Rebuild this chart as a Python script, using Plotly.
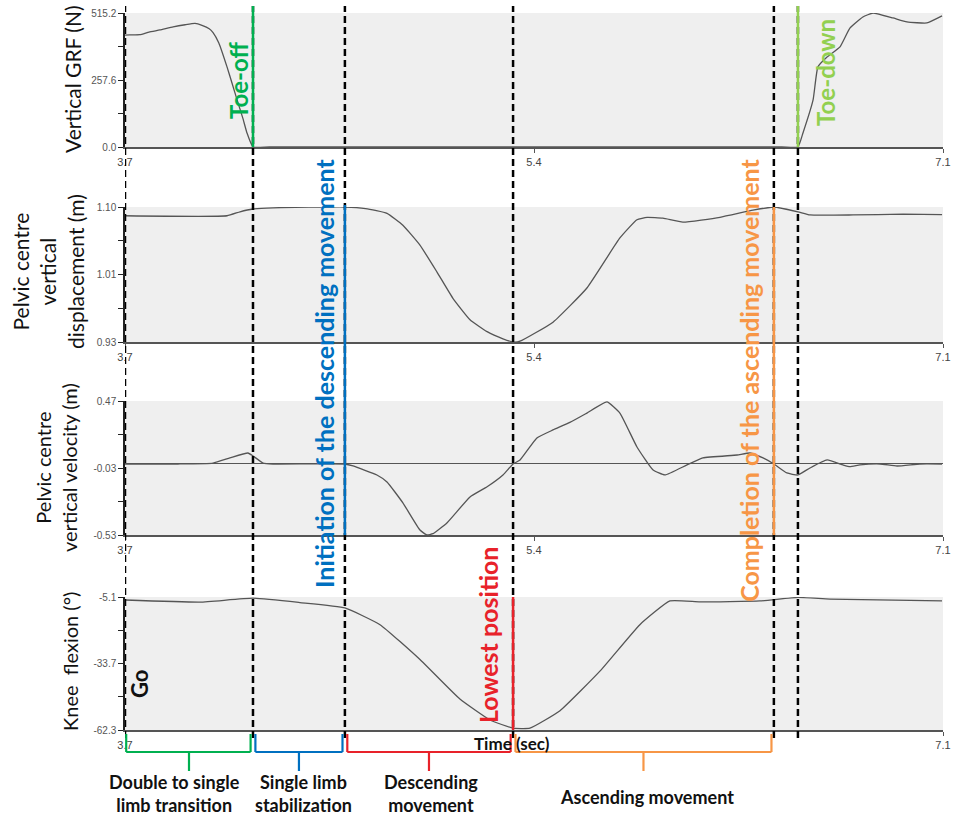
import plotly.graph_objects as go

# ---------------- data ----------------
grf_t = [3.700, 3.720, 3.762, 3.800, 3.845, 3.900, 3.950, 3.991, 4.020, 4.050, 4.066, 4.090, 4.124, 4.145, 4.166,
         4.190, 4.207, 4.232, 4.300, 6.430, 6.497, 6.518, 6.560, 6.580, 6.618, 6.672, 6.713, 6.767, 6.809, 6.892,
         6.950, 7.033, 7.096]
grf_v = [430, 431, 432, 442, 450, 462, 470, 475, 468, 455, 440, 400, 308, 245, 181,
         110, 54, 0, 0, 0, 0, 54, 181, 308, 346, 385, 457, 500, 515, 496,
         481, 477, 504]

disp_t = [3.700, 4.124, 4.178, 4.232, 4.315, 4.614, 4.700, 4.789, 4.855, 4.926, 4.997, 5.063, 5.134, 5.205, 5.271,
          5.313, 5.342, 5.479, 5.620, 5.757, 5.828, 5.870, 5.936, 6.019, 6.173, 6.310, 6.397, 6.497, 6.547, 6.726,
          6.934, 7.096]
disp_v = [1.089, 1.089, 1.094, 1.0975, 1.099, 1.100, 1.098, 1.092, 1.077, 1.052, 1.018, 0.985, 0.958, 0.943, 0.934,
          0.930, 0.931, 0.955, 0.998, 1.061, 1.084, 1.087, 1.086, 1.081, 1.087, 1.096, 1.100, 1.094, 1.090, 1.090,
          1.091, 1.0905]

vel_t = [3.700, 3.920, 4.066, 4.136, 4.211, 4.232, 4.274, 4.315, 4.614, 4.648, 4.747, 4.789, 4.855, 4.926, 4.955,
         4.980, 5.038, 5.134, 5.205, 5.271, 5.313, 5.342, 5.412, 5.479, 5.549, 5.620, 5.703, 5.757, 5.828, 5.895,
         5.944, 6.036, 6.102, 6.244, 6.298, 6.352, 6.397, 6.451, 6.497, 6.547, 6.618, 6.684, 6.713, 6.755, 6.838,
         6.909, 7.004, 7.096]
vel_v = [0, 0, 0.007, 0.045, 0.082, 0.06, 0.007, 0, 0, -0.015, -0.082, -0.134, -0.29, -0.493, -0.53,
         -0.52, -0.44, -0.246, -0.17, -0.082, 0, 0.03, 0.194, 0.254, 0.31, 0.38, 0.463, 0.38, 0.127, -0.045,
         -0.082, -0.007, 0.045, 0.067, 0.082, 0.045, 0, -0.067, -0.082, -0.03, 0.03, -0.007, -0.02, -0.007, 0,
         -0.015, 0, 0]

knee_t = [3.700, 4.012, 4.232, 4.427, 4.614, 4.760, 4.926, 5.092, 5.217, 5.313, 5.383, 5.508, 5.674, 5.840, 5.965,
          6.090, 6.339, 6.497, 6.630, 7.096]
knee_v = [-6.4, -7.3, -5.6, -7.5, -9.8, -17, -32, -49, -58, -61.5, -61.5, -54, -37, -17, -6.8,
          -7.2, -6.8, -5.3, -6.0, -6.8]

y_ranges = [(0.0, 515.2), (0.93, 1.10), (-0.53, 0.47), (-62.3, -5.1)]
y_ticklabels = [["0.0", "257.6", "515.2"], ["0.93", "1.01", "1.10"], ["-0.53", "-0.03", "0.47"],
                ["-62.3", "-33.7", "-5.1"]]
y_titles = ["Vertical GRF (N)", "Pelvic centre<br>vertical<br>displacement (m)",
            "Pelvic centre<br>vertical velocity (m)", "Knee  flexion (°)"]
x_ticks = [3.7, 5.4, 7.1]

# events
t_go, t_toeoff, t_init, t_low, t_compl, t_toedown = 3.70, 4.232, 4.614, 5.313, 6.397, 6.497
phase_labels = ["Double to single<br>limb transition", "Single limb<br>stabilization",
                "Descending<br>movement", "Ascending movement"]

# ---------------- layout helpers ----------------
W, H = 953, 822
def px(x):
    return x / W
def py(y):
    return 1 - y / H

panels_px = [(13, 147), (207, 342), (401, 535), (597, 730)]
XL, XR = 125, 943

fig = go.Figure()
series = [(grf_t, grf_v), (disp_t, disp_v), (vel_t, vel_v), (knee_t, knee_v)]
for i, (t, v) in enumerate(series):
    ax = "" if i == 0 else str(i + 1)
    fig.add_trace(go.Scatter(x=t, y=v, mode="lines", line=dict(color="#555555", width=1.3, shape="spline",
                                                                  smoothing=0.4),
                             xaxis="x" + ax, yaxis="y" + ax, showlegend=False, hoverinfo="skip"))

layout = dict(width=W, height=H, margin=dict(l=0, r=0, t=0, b=0, autoexpand=False),
              paper_bgcolor="white", plot_bgcolor="#efefef", showlegend=False,
              font=dict(family="Arial", color="#444"))
for i in range(4):
    ax = "" if i == 0 else str(i + 1)
    top, bot = panels_px[i]
    lo, hi = y_ranges[i]
    tv = [lo + k * (hi - lo) / 4 for k in range(5)]
    tt = [y_ticklabels[i][0], "", y_ticklabels[i][1], "", y_ticklabels[i][2]]
    if i < 3:
        xtv, xtt = x_ticks, ["3.7", "5.4", "7.1"]
    else:
        xtv, xtt = [x_ticks[0], x_ticks[2]], ["3.7", "7.1"]
    layout["xaxis" + ax] = dict(domain=[px(XL), px(XR)], anchor="y" + ax, range=[3.7, 7.1],
                                tickvals=xtv, ticktext=xtt, ticks="outside", ticklen=4,
                                tickcolor="#555", showline=True, linecolor="#555", linewidth=1.5,
                                showgrid=False, zeroline=False, automargin=False,
                                tickfont=dict(size=11, color="#444"))
    layout["yaxis" + ax] = dict(domain=[py(bot), py(top)], anchor="x" + ax, range=[lo, hi],
                                tickvals=tv, ticktext=tt, ticks="outside", ticklen=5,
                                tickcolor="#222", showline=True, linecolor="#222", linewidth=1.5,
                                showgrid=False, zeroline=(i == 2), zerolinecolor="#555",
                                zerolinewidth=1.3, automargin=False, tickfont=dict(size=10, color="#555"))
fig.update_layout(**layout)

shapes = []
# dashed black event lines
for t in [t_go, t_toeoff, t_init, t_low, t_compl, t_toedown]:
    shapes.append(dict(type="line", xref="x", yref="paper", x0=t, x1=t, y0=py(738), y1=py(6),
                       line=dict(color="black", width=2.5, dash="7px,4px")))
# coloured event lines
col_lines = [(t_toeoff, "#00b050", 6, 147), (t_toedown, "#92d050", 6, 147),
             (t_init, "#0070c0", 205, 535), (t_compl, "#f79646", 207, 535),
             (t_low, "#e8222a", 597, 730)]
for t, c, y0, y1 in col_lines:
    shapes.append(dict(type="line", xref="x", yref="paper", x0=t, x1=t, y0=py(y1), y1=py(y0),
                       line=dict(color=c, width=2.5)))

# phase brackets
phases = [(t_go, t_toeoff, "#00b050"), (t_toeoff, t_init, "#0070c0"),
          (t_init, t_low, "#e8222a"), (t_low, t_compl, "#f79646")]
gap = 0.01
for k, (a, b, c) in enumerate(phases):
    a2 = a + (gap if k > 0 else 0.005)
    b2 = b - gap
    yb, yt, yd = py(752), py(734), py(771)
    m = (a + b) / 2
    for seg in [(a2, yt, a2, yb), (a2, yb, b2, yb), (b2, yb, b2, yt), (m, yb, m, yd)]:
        shapes.append(dict(type="line", xref="x", yref="paper", x0=seg[0], y0=seg[1], x1=seg[2], y1=seg[3],
                           line=dict(color=c, width=2.2)))
fig.update_layout(shapes=shapes)

ann = []
TF = "Lato"
# y titles
ytitle_pos = [(72, 79, 21), (48, 272, 21), (56, 468, 20), (70, 662, 20)]
for (x, y, s), txt in zip(ytitle_pos, y_titles):
    ann.append(dict(text=txt, x=px(x), y=py(y), xref="paper", yref="paper", showarrow=False,
                    textangle=-90, font=dict(family=TF, size=s, color="#111"), xanchor="center",
                    yanchor="middle"))
# event texts
evt = [("Toe-off", t_toeoff, -15, 80, "#00b050", 24),
       ("Toe-down", t_toedown, 27, 72, "#92d050", 24),
       ("Initiation of the descending movement", t_init, -21, 373, "#0070c0", 25),
       ("Completion of the ascending movement", t_compl, -25, 380, "#f79646", 25),
       ("Lowest position", t_low, -25, 635, "#e8222a", 25),
       ("Go", t_go, 14, 684, "#111", 22)]
for txt, t, dx, y, c, s in evt:
    ann.append(dict(text="<b>%s</b>" % txt, x=t, y=py(y), xref="x", yref="paper",
                    xshift=dx, showarrow=False, textangle=-90,
                    font=dict(family=TF, size=s, color=c), xanchor="center", yanchor="middle"))
# phase labels
lab_y = [793, 793, 793, 797]
lab_dx = [-15, 5, 2, 4]
for (a, b, c), txt, y, dx in zip(phases, phase_labels, lab_y, lab_dx):
    ann.append(dict(text="<b>%s</b>" % txt, x=(a + b) / 2, y=py(y), xref="x", yref="paper", showarrow=False,
                    xshift=dx, font=dict(family=TF, size=18, color="#111"), xanchor="center",
                    yanchor="middle"))
ann.append(dict(text="<b>Time (sec)</b>", x=px(512), y=py(743), xref="paper", yref="paper", showarrow=False,
                font=dict(family=TF, size=17, color="#111"), xanchor="center", yanchor="middle"))
fig.update_layout(annotations=ann)

fig.write_html("out.html", config={"displayModeBar": False},
               post_script="document.body.style.margin='0px';document.body.style.overflow='hidden';")
